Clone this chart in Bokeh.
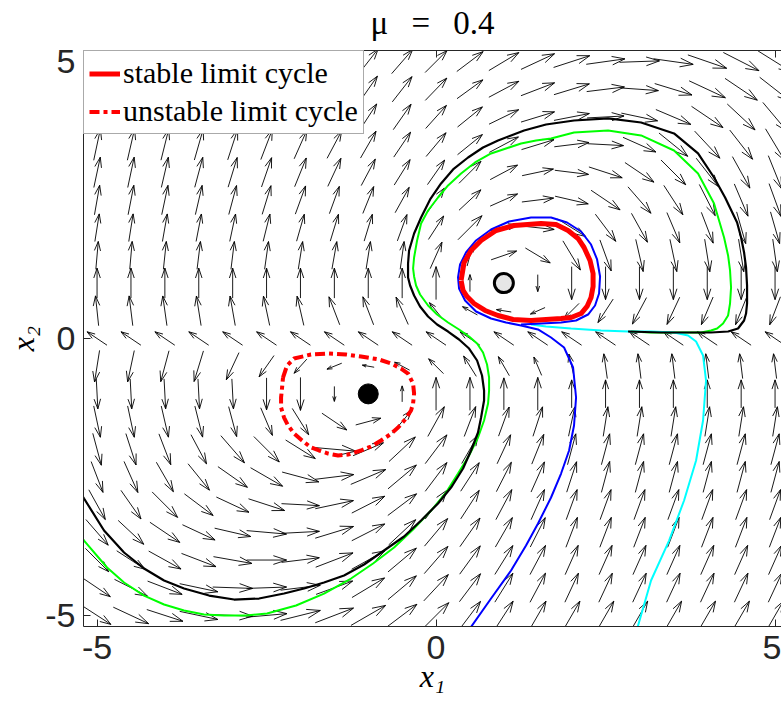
import math
from bokeh.plotting import figure
from bokeh.models import Range1d, LinearAxis, Legend, LegendItem, FixedTicker, ColumnDataSource
from bokeh.embed import file_html
from bokeh.resources import INLINE

# ---------------- data ----------------
GRID_X = [-5.0, -4.5, -4.0, -3.5, -3.0, -2.5, -2.0, -1.5, -1.0, -0.5, 0.0,
          0.5, 1.0, 1.5, 2.0, 2.5, 3.0, 3.5, 4.0, 4.5, 5.0]
GRID_Y = [5.0, 4.5, 4.0, 3.5, 3.0, 2.5, 2.0, 1.5, 1.0, 0.5, 0.0,
          -0.5, -1.0, -1.5, -2.0, -2.5, -3.0, -3.5, -4.0, -4.5, -5.0]

# arrow direction on screen (degrees, 0 = right, 90 = up), rows follow GRID_Y
ARROW_ANGLE = [
    [75, 74, 73, 71, 69, 66, 62, 57, 52, 49, 45, 37, 31, 25, 18, 8, 2, -8, -19, -27, -32],
    [76, 75, 74, 72, 70, 67, 63, 59, 55, 52, 46, 36, 28, 21, 17, 7, -4, -17, -25, -34, -38],
    [77, 76, 75, 73, 71, 68, 64, 60, 57, 55, 48, 39, 26, 17, 11, 3, -12, -23, -34, -43, -50],
    [78, 77, 76, 74, 72, 69, 66, 62, 60, 56, 50, 39, 28, 17, 7, -3, -24, -39, -47, -52, -59],
    [78, 78, 77, 75, 73, 71, 68, 65, 62, 58, 55, 45, 28, 12, -7, -18, -34, -45, -52, -61, -68],
    [80, 79, 78, 77, 75, 73, 70, 70, 68, 61, 55, 43, 24, 7, -13, -34, -49, -57, -63, -67, -70],
    [81, 81, 80, 79, 78, 76, 74, 73, 73, 70, 57, 45, 12, -6, -32, -53, -61, -67, -69, -74, -74],
    [85, 85, 84, 83, 83, 82, 81, 80, 81, 82, 66, 75, 19, -31, -59, -70, -77, -78, -81, -81, -82],
    [90, 90, 90, 90, 90, 90, 90, 90, 90, 90, 90, 90, 0, 270, 270, 270, 270, 270, 270, 270, 270],
    [96, 97, 98, 99, 100, 102, 103, 111, 111, 114, 129, 151, 171, 204, 225, 237, 242, 245, 247, 248, 249],
    [146, 146, 146, 146, 146, 146, 146, 146, 146, 146, 146, 146, 146, 146, 146, 146, 146, 146, 146, 146, 146],
    [261, 258, 255, 253, 245, 235, 228, 202, 170, 152, 135, 122, 120, 113, 103, 98, 97, 97, 97, 97, 97],
    [273, 273, 273, 273, 273, 270, 270, 270, 0, 90, 90, 90, 90, 90, 90, 90, 90, 90, 90, 90, 90],
    [282, 282, 283, 284, 285, 293, 302, 326, 15, 50, 61, 69, 70, 72, 78, 81, 81, 81, 81, 81, 81],
    [285, 288, 291, 298, 311, 315, 328, 355, 23, 43, 53, 60, 65, 68, 75, 75, 75, 75, 75, 75, 75],
    [291, 294, 300, 309, 325, 330, 345, 7, 23, 40, 53, 57, 63, 66, 72, 75, 75, 75, 75, 75, 75],
    [299, 305, 315, 323, 335, 342, 357, 12, 27, 37, 53, 57, 62, 66, 70, 70, 70, 70, 70, 70, 70],
    [311, 317, 326, 335, 347, 355, 3, 17, 27, 43, 50, 55, 60, 63, 69, 69, 69, 69, 69, 69, 69],
    [315, 327, 331, 339, 350, 0, 7, 21, 29, 40, 49, 54, 58, 62, 66, 66, 66, 66, 66, 66, 66],
    [326, 333, 339, 348, 358, 2, 7, 20, 31, 40, 47, 53, 58, 62, 65, 65, 65, 65, 65, 65, 65],
    [327, 335, 342, 348, 358, 5, 14, 21, 30, 37, 45, 53, 57, 60, 60, 60, 60, 60, 60, 60, 60],
]
# arrow length on screen (pixels)
ARROW_LENGTH = [
    [33, 33, 33, 33, 33, 33, 33, 33, 32, 32, 31, 33, 35, 37, 38, 39, 40, 40, 41, 40, 40],
    [33, 33, 33, 33, 33, 33, 33, 32, 32, 32, 31, 32, 34, 36, 37, 38, 38, 39, 40, 39, 39],
    [32, 32, 32, 32, 32, 32, 32, 32, 31, 31, 31, 32, 33, 35, 36, 37, 37, 38, 38, 38, 38],
    [32, 32, 32, 32, 32, 32, 31, 31, 31, 30, 31, 32, 33, 34, 35, 36, 36, 37, 37, 37, 37],
    [31, 31, 31, 31, 31, 31, 31, 31, 30, 30, 30, 31, 31, 32, 34, 35, 35, 35, 36, 36, 36],
    [30, 30, 30, 30, 30, 30, 30, 29, 29, 29, 29, 30, 30, 32, 34, 35, 35, 35, 35, 35, 35],
    [28, 28, 28, 28, 28, 28, 28, 28, 28, 28, 28, 34, 28, 33, 33, 34, 33, 33, 33, 33, 33],
    [28, 28, 28, 28, 28, 28, 28, 28, 28, 28, 29, 22, 27, 29, 34, 33, 33, 33, 33, 33, 33],
    [30, 30, 30, 30, 30, 30, 30, 30, 30, 30, 33, 17, 0, 17, 33, 33, 33, 33, 33, 33, 33],
    [30, 30, 30, 30, 30, 30, 30, 30, 30, 30, 21, 17, 15, 16, 21, 28, 30, 30, 30, 30, 30],
    [24, 24, 24, 24, 24, 24, 24, 24, 24, 24, 24, 24, 24, 24, 24, 24, 24, 24, 24, 24, 24],
    [32, 32, 32, 32, 30, 26, 19, 16, 12, 17, 21, 24, 22, 20, 25, 25, 25, 25, 25, 25, 25],
    [30, 30, 30, 30, 30, 32, 33, 15, 0, 16, 33, 33, 32, 33, 28, 28, 28, 28, 28, 28, 28],
    [32, 32, 32, 32, 31, 30, 31, 30, 26, 30, 34, 32, 31, 31, 30, 30, 30, 30, 30, 30, 30],
    [33, 33, 33, 33, 36, 36, 35, 43, 33, 36, 36, 33, 32, 32, 32, 32, 32, 32, 32, 32, 32],
    [33, 34, 34, 34, 36, 37, 38, 39, 38, 37, 36, 34, 33, 33, 32, 32, 32, 32, 32, 32, 32],
    [34, 35, 36, 36, 36, 38, 38, 39, 37, 36, 36, 34, 34, 33, 32, 32, 32, 32, 32, 32, 32],
    [34, 35, 36, 36, 37, 40, 38, 40, 37, 37, 36, 35, 34, 33, 32, 32, 32, 32, 32, 32, 32],
    [33, 34, 37, 37, 39, 40, 38, 40, 38, 37, 36, 35, 34, 33, 32, 32, 32, 32, 32, 32, 32],
    [32, 37, 37, 39, 40, 40, 40, 39, 38, 37, 36, 35, 34, 33, 32, 32, 32, 32, 32, 32, 32],
    [33, 39, 38, 39, 40, 41, 41, 41, 40, 37, 36, 35, 34, 33, 33, 33, 33, 33, 33, 33, 33],
]

STABLE_CYCLE_X = [0.369, 0.413, 0.516, 0.664, 0.885, 1.150, 1.549, 1.770, 1.947, 2.094, 2.183, 2.271,
                  2.316, 2.316, 2.286, 2.227, 2.139, 1.991, 1.844, 1.622, 1.401, 1.136, 0.914, 0.723,
                  0.560, 0.457, 0.398, 0.369]
STABLE_CYCLE_Y = [1.047, 1.372, 1.589, 1.770, 1.950, 2.040, 2.077, 2.059, 1.950, 1.806, 1.643, 1.408,
                  1.174, 0.939, 0.740, 0.578, 0.451, 0.379, 0.361, 0.343, 0.325, 0.343, 0.415, 0.506,
                  0.632, 0.758, 0.867, 1.047]

UNSTABLE_CYCLE_X = [-2.257, -2.198, -2.094, -1.844, -1.593, -1.327, -1.106, -0.841, -0.664, -0.516,
                    -0.413, -0.339, -0.324, -0.339, -0.369, -0.457, -0.560, -0.678, -0.811, -0.959,
                    -1.106, -1.298, -1.445, -1.593, -1.726, -1.844, -1.976, -2.094, -2.183, -2.242,
                    -2.286, -2.286, -2.271, -2.257]
UNSTABLE_CYCLE_Y = [-0.704, -0.488, -0.361, -0.289, -0.271, -0.289, -0.325, -0.379, -0.451, -0.542,
                    -0.632, -0.813, -0.993, -1.174, -1.300, -1.463, -1.607, -1.733, -1.842, -1.950,
                    -2.022, -2.095, -2.113, -2.077, -2.022, -1.968, -1.842, -1.715, -1.571, -1.427,
                    -1.246, -1.065, -0.885, -0.704]

BLUE_X = [0.457, 0.811, 1.106, 1.327, 1.504, 1.696, 1.844, 1.962, 2.035, 2.065, 2.021, 1.888, 1.696,
          1.504, 1.254, 1.032, 0.811, 0.590, 0.428, 0.339, 0.324, 0.354, 0.442, 0.590, 0.811, 1.077,
          1.401, 1.696, 1.932, 2.139, 2.286, 2.375, 2.419, 2.404, 2.345, 2.242, 2.065, 1.844, 1.549, 1.254]
BLUE_Y = [-5.31, -4.695, -4.189, -3.738, -3.341, -2.871, -2.438, -2.022, -1.571, -1.065, -0.524, -0.163,
          0.018, 0.163, 0.235, 0.289, 0.361, 0.488, 0.686, 0.903, 1.101, 1.336, 1.553, 1.770, 1.968, 2.113,
          2.185, 2.185, 2.095, 1.932, 1.697, 1.427, 1.120, 0.813, 0.596, 0.433, 0.325, 0.289, 0.271, 0.253]

CYAN_X = [2.950, 3.171, 3.437, 3.658, 3.835, 3.938, 3.982, 3.938, 3.835, 3.717, 3.510, 3.171, 2.832,
          2.434, 1.991, 1.622, 1.401]
CYAN_Y = [-5.309, -4.370, -3.648, -2.925, -2.203, -1.481, -0.758, -0.307, -0.054, 0.054, 0.108, 0.126,
          0.126, 0.144, 0.181, 0.217, 0.253]

BLACK_X = [-5.265, -5.192, -4.897, -4.602, -4.307, -4.012, -3.717, -3.348, -2.979, -2.611, -2.242,
           -1.947, -1.652, -1.357, -1.062, -0.767, -0.472, -0.221, 0.029, 0.221, 0.398, 0.516, 0.619,
           0.664, 0.708, 0.708, 0.678, 0.605, 0.487, 0.339, 0.177, 0.015, -0.118, -0.236,
           -0.324, -0.383, -0.413, -0.413, -0.398, -0.324, -0.221, -0.088, 0.074, 0.251, 0.472, 0.693,
           0.914, 1.106, 1.298, 1.622, 2.035, 2.537, 3.024, 3.510, 3.864, 4.100, 4.263, 4.440, 4.499,
           4.543, 4.572, 4.587, 4.587, 4.572, 4.543, 4.454, 4.307, 4.056, 3.805, 3.319, 2.832]
BLACK_Y = [-2.745, -2.889, -3.467, -3.864, -4.153, -4.370, -4.514, -4.641, -4.713, -4.695, -4.605,
           -4.514, -4.406, -4.280, -4.081, -3.828, -3.575, -3.286, -2.979, -2.691, -2.347, -2.022,
           -1.697, -1.427, -1.120, -0.939, -0.668, -0.397, -0.181, -0.018, 0.126, 0.253, 0.397,
           0.578, 0.776, 0.957, 1.101, 1.354, 1.589, 1.896, 2.185, 2.510, 2.799, 3.052, 3.268,
           3.449, 3.575, 3.666, 3.756, 3.864, 3.936, 3.973, 3.900, 3.702, 3.341, 2.907, 2.546, 2.095,
           1.824, 1.553, 1.282, 0.957, 0.632, 0.451, 0.325, 0.181, 0.126, 0.108, 0.108, 0.108, 0.126]

GREEN_X = [-5.265, -5.192, -4.853, -4.602, -4.307, -4.012, -3.717, -3.422, -3.127, -2.802, -2.493,
           -2.065, -1.652, -1.254, -0.929, -0.619, -0.339, -0.074, 0.147, 0.324, 0.487, 0.619, 0.708,
           0.767, 0.782, 0.782, 0.752, 0.693, 0.605, 0.487, 0.339, 0.177, 0.015, -0.118, -0.236,
           -0.295, -0.324, -0.339, -0.324, -0.280, -0.221, -0.118, 0.029, 0.177, 0.369, 0.575, 0.811,
           1.032, 1.254, 1.475, 1.696, 2.035, 2.537, 3.024, 3.510, 3.864, 4.100, 4.248, 4.307, 4.336,
           4.351, 4.336, 4.307, 4.233, 4.145, 4.056, 3.909, 3.614, 3.171, 2.876]
GREEN_Y = [-3.521, -3.648, -4.135, -4.406, -4.641, -4.803, -4.912, -4.984, -5.002, -5.002, -4.966,
           -4.821, -4.605, -4.334, -4.063, -3.774, -3.449, -3.106, -2.781, -2.438, -2.113, -1.788,
           -1.481, -1.174, -0.939, -0.704, -0.469, -0.253, -0.090, 0.036, 0.162, 0.289, 0.433, 0.596,
           0.795, 0.957, 1.120, 1.264, 1.463, 1.770, 2.077, 2.311, 2.546, 2.763, 2.979, 3.178, 3.341,
           3.431, 3.521, 3.575, 3.611, 3.720, 3.756, 3.666, 3.395, 2.979, 2.438, 1.824, 1.499, 1.228,
           0.921, 0.632, 0.415, 0.271, 0.181, 0.144, 0.108, 0.108, 0.108, 0.126]

EQ_STABLE_X, EQ_STABLE_Y = [-1.0], [-1.0]
EQ_UNSTABLE_X, EQ_UNSTABLE_Y = [1.0], [1.0]

X_TICKS = [-5, 0, 5]
Y_TICKS = [-5, 0, 5]
TICK_TEXT = {-5: "-5", 0: "0", 5: "5"}
TITLE = "μ\u2002\u2009=\u2002\u20090.4"
X_LABEL = "x₁"
Y_LABEL = "x₂"

# ---------------- layout ----------------
W, H = 781, 709
FL, FR, FT, FB = 83, 781, 50, 626
XS, XE = -5.2, 5.095
YS, YE = -5.2, 5.2
sx = (FR - FL) / (XE - XS)
sy = (FB - FT) / (YE - YS)

p = figure(width=W, height=H, x_range=Range1d(XS, XE), y_range=Range1d(YS, YE),
           output_backend="svg", toolbar_location=None,
           min_border_left=FL, min_border_right=0, min_border_top=FT, min_border_bottom=H - FB)
p.outline_line_color = None
p.xgrid.grid_line_color = None
p.ygrid.grid_line_color = None
p.background_fill_color = "white"
p.border_fill_color = "white"

bottom_axis = p.below[0]
left_axis = p.left[0]
top_axis = LinearAxis()
p.add_layout(top_axis, "above")

AX_COL = "#262626"
SERIF = "Liberation Serif"
for ax, ticks in [(bottom_axis, X_TICKS), (left_axis, Y_TICKS), (top_axis, X_TICKS)]:
    ax.ticker = FixedTicker(ticks=ticks)
    ax.major_label_overrides = dict(TICK_TEXT)
    ax.major_tick_in = 7
    ax.major_tick_out = 0
    ax.minor_tick_in = 0
    ax.minor_tick_out = 0
    ax.axis_line_color = AX_COL
    ax.axis_line_width = 1
    ax.major_tick_line_color = AX_COL
    ax.major_label_text_font = "Liberation Sans"
    ax.major_label_text_font_size = "34px"
    ax.major_label_text_color = AX_COL

bottom_axis.major_label_standoff = 9
left_axis.major_label_standoff = 8

bottom_axis.axis_label = X_LABEL
bottom_axis.axis_label_text_font = SERIF
bottom_axis.axis_label_text_font_style = "italic"
bottom_axis.axis_label_text_font_size = "32px"
bottom_axis.axis_label_text_color = "black"
bottom_axis.axis_label_standoff = -4

left_axis.axis_label = Y_LABEL
left_axis.axis_label_text_font = SERIF
left_axis.axis_label_text_font_style = "italic"
left_axis.axis_label_text_font_size = "32px"
left_axis.axis_label_text_color = "black"
left_axis.axis_label_standoff = 1

# title is written as the label of the top axis (the top axis carries no tick labels)
top_axis.major_label_text_color = None
top_axis.major_label_text_font_size = "1px"
top_axis.major_label_standoff = 0
top_axis.axis_label = TITLE
top_axis.axis_label_text_font = SERIF
top_axis.axis_label_text_font_style = "normal"
top_axis.axis_label_text_font_size = "33px"
top_axis.axis_label_text_color = "black"
top_axis.axis_label_standoff = 10

# ---------------- quiver ----------------
shaft = dict(x0=[], y0=[], x1=[], y1=[])
ALPHA, BETA = 0.33, 0.33
for i, gy in enumerate(GRID_Y):
    for j, gx in enumerate(GRID_X):
        L = ARROW_LENGTH[i][j]
        if L <= 0:
            continue
        a = math.radians(ARROW_ANGLE[i][j])
        u, v = L * math.cos(a), L * math.sin(a)   # screen pixels, y up
        tx, ty = gx - u / 2 / sx, gy - v / 2 / sy
        hx, hy = gx + u / 2 / sx, gy + v / 2 / sy
        shaft["x0"].append(tx); shaft["y0"].append(ty)
        shaft["x1"].append(hx); shaft["y1"].append(hy)
        for sgn in (1, -1):
            bu = ALPHA * (u + sgn * BETA * v)
            bv = ALPHA * (v - sgn * BETA * u)
            shaft["x0"].append(hx); shaft["y0"].append(hy)
            shaft["x1"].append(hx - bu / sx); shaft["y1"].append(hy - bv / sy)
p.segment(x0="x0", y0="y0", x1="x1", y1="y1", source=ColumnDataSource(shaft),
          line_color="black", line_width=0.9)

# ---------------- trajectories ----------------
p.line(GREEN_X, GREEN_Y, line_color="#00ff00", line_width=2)
p.line(CYAN_X, CYAN_Y, line_color="#00ffff", line_width=2)
p.line(BLACK_X, BLACK_Y, line_color="black", line_width=2.2)
p.line(BLUE_X, BLUE_Y, line_color="#0000ff", line_width=2)
r_stable = p.line(STABLE_CYCLE_X, STABLE_CYCLE_Y, line_color="#ff0000", line_width=5, line_join="round")
r_unstable = p.line(UNSTABLE_CYCLE_X, UNSTABLE_CYCLE_Y, line_color="#ff0000", line_width=4,
                    line_dash="10 4 4 4")

p.scatter(EQ_STABLE_X, EQ_STABLE_Y, size=20, fill_color="black", line_color="black")
p.scatter(EQ_UNSTABLE_X, EQ_UNSTABLE_Y, size=19, fill_color="#e6e6e6", line_color="black", line_width=3)

# ---------------- legend ----------------
legend = Legend(items=[LegendItem(label="stable limit cycle", renderers=[r_stable]),
                       LegendItem(label="unstable limit cycle", renderers=[r_unstable])],
                location="top_left", margin=0, padding=5, spacing=4,
                glyph_width=31, glyph_height=29, label_height=29, label_standoff=3,
                label_text_font=SERIF, label_text_font_size="30px",
                label_text_color="black",
                border_line_color="#555555", border_line_width=1,
                background_fill_color="white", background_fill_alpha=1)
p.add_layout(legend)

open("out.html", "w").write(file_html(p, INLINE))
